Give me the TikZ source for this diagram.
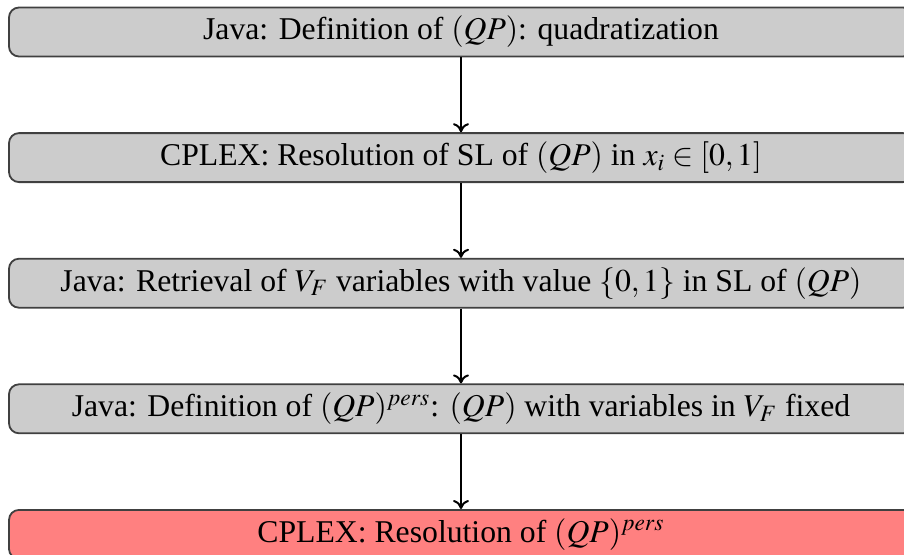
\documentclass[tikz,border=0pt]{standalone}
\usepackage{mathptmx}
\usepackage[no-math]{fontspec}
\setmainfont{Liberation Serif}
\usetikzlibrary{arrows.meta}
\tikzset{
  stepbox/.style={draw=black!75, line width=0.9pt, rounded corners=5pt, fill=black!20,
    minimum width=452pt, minimum height=24.5pt, inner sep=0pt, font=\fontsize{15.85}{19}\selectfont},
  finalbox/.style={stepbox, fill=red!50},
  flowarrow/.style={line width=1pt, -{To[length=4.5pt,width=8pt]}}
}
\begin{document}
\begin{tikzpicture}[x=0.5pt,y=-0.5pt]
\useasboundingbox (0,0) rectangle (904,554);
\node[stepbox] (a) at (461,32) {Java: Definition of $(QP)$: quadratization};
\node[stepbox] (b) at (461,157.6) {CPLEX: Resolution of SL of $(QP)$ in $x_i \in [0,1]$};
\node[stepbox] (c) at (461,283.2) {Java: Retrieval of $V_F$ variables with value $\{0,1\}$ in SL of $(QP)$};
\node[stepbox] (d) at (461,408.8) {Java: Definition of $(QP)^{pers}$: $(QP)$ with variables in $V_F$ fixed};
\node[finalbox] (e) at (461,534.4) {CPLEX: Resolution of $(QP)^{pers}$};
\draw[flowarrow] (a) -- (b);
\draw[flowarrow] (b) -- (c);
\draw[flowarrow] (c) -- (d);
\draw[flowarrow] (d) -- (e);
\end{tikzpicture}
\end{document}
